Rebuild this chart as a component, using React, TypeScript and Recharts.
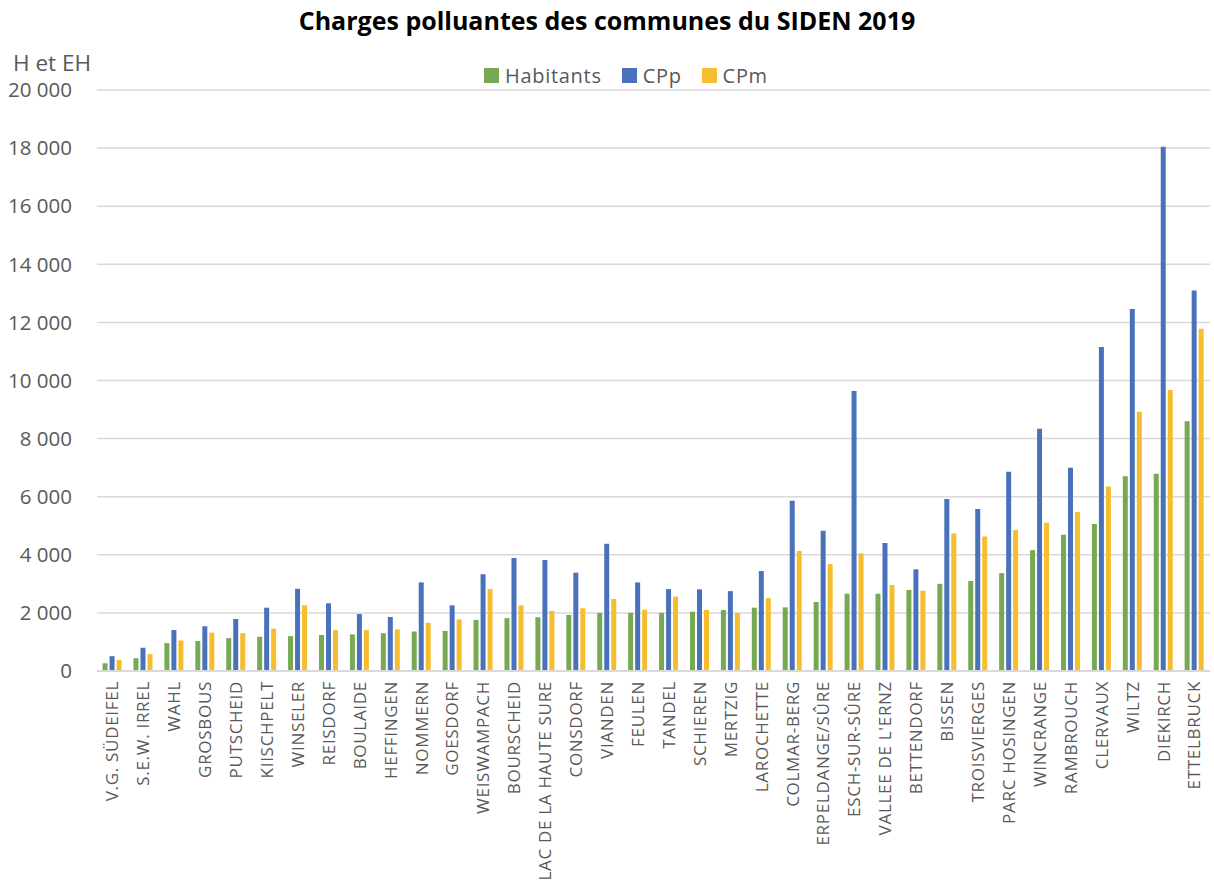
import React from "react";
import { BarChart, Bar, XAxis, YAxis, CartesianGrid, Legend } from "recharts";

const communes = [
  "V.G. SÜDEIFEL", "S.E.W. IRREL", "WAHL", "GROSBOUS", "PUTSCHEID", "KIISCHPELT",
  "WINSELER", "REISDORF", "BOULAIDE", "HEFFINGEN", "NOMMERN", "GOESDORF",
  "WEISWAMPACH", "BOURSCHEID", "LAC DE LA HAUTE SURE", "CONSDORF", "VIANDEN", "FEULEN",
  "TANDEL", "SCHIEREN", "MERTZIG", "LAROCHETTE", "COLMAR-BERG", "ERPELDANGE/SÛRE",
  "ESCH-SUR-SÛRE", "VALLEE DE L'ERNZ", "BETTENDORF", "BISSEN", "TROISVIERGES", "PARC HOSINGEN",
  "WINCRANGE", "RAMBROUCH", "CLERVAUX", "WILTZ", "DIEKIRCH", "ETTELBRUCK",
];

const habitants = [
  265, 440, 960, 1030, 1130, 1180, 1200, 1240, 1260, 1300, 1360, 1380,
  1760, 1820, 1850, 1930, 2000, 2000, 2000, 2040, 2100, 2180, 2190, 2375,
  2660, 2660, 2790, 3000, 3100, 3370, 4160, 4690, 5060, 6700, 6790, 8600,
];

const cpp = [
  510, 800, 1410, 1540, 1790, 2180, 2830, 2330, 1960, 1860, 3050, 2260,
  3330, 3890, 3820, 3385, 4380, 3050, 2820, 2810, 2750, 3440, 5860, 4830,
  9640, 4410, 3500, 5920, 5580, 6860, 8340, 7000, 11150, 12460, 18050, 13100,
];

const cpm = [
  380, 580, 1050, 1320, 1300, 1460, 2260, 1410, 1410, 1430, 1660, 1780,
  2820, 2260, 2065, 2160, 2480, 2110, 2560, 2100, 2000, 2510, 4130, 3680,
  4050, 2960, 2765, 4730, 4630, 4850, 5100, 5470, 6350, 8920, 9670, 11780,
];

const yTicks = [0, 2000, 4000, 6000, 8000, 10000, 12000, 14000, 16000, 18000, 20000];

const seriesNames = ["Habitants", "CPp", "CPm"];
const seriesColors = ["#76A952", "#4A72BA", "#F6BE2E"];

const data = communes.map((c, i) => ({
  name: c,
  Habitants: habitants[i],
  CPp: cpp[i],
  CPm: cpm[i],
}));

const FONT = "'Open Sans', 'DejaVu Sans', sans-serif";
const GRAY = "#595959";

const fmt = (v: number) => String(v).replace(/\B(?=(\d{3})+(?!\d))/g, " ");

const XTick = (props: any) => {
  const { x, y, payload } = props;
  return (
    <g transform={`translate(${x},${y + 2})`}>
      <text
        x={0}
        y={0}
        dy="0.35em"
        textAnchor="end"
        transform="rotate(-90)"
        fill={GRAY}
        fontSize={17}
        letterSpacing={0.7}
        fontFamily={FONT}
      >
        {payload.value}
      </text>
    </g>
  );
};

const LegendContent = () => (
  <div style={{ display: "flex", justifyContent: "flex-start", alignItems: "center", fontFamily: FONT, paddingLeft: 484 }}>
    {seriesNames.map((n, i) => (
      <div key={n} style={{ display: "flex", alignItems: "center", marginRight: 20 }}>
        <span style={{ display: "inline-block", width: 15, height: 15, background: seriesColors[i], marginRight: 6 }} />
        <span style={{ fontSize: 20, color: GRAY, letterSpacing: 0.7 }}>{n}</span>
      </div>
    ))}
  </div>
);

export default function App() {
  return (
    <div style={{ position: "absolute", left: 0, top: 0, width: 1214, height: 889, background: "#fff" }}>
      <div
        style={{
          position: "absolute",
          top: 3,
          left: 0,
          width: 1214,
          textAlign: "center",
          fontFamily: FONT,
          fontWeight: 700,
          fontSize: 25,
          color: "#000",
          whiteSpace: "nowrap",
        }}
      >
        Charges polluantes des communes du SIDEN 2019
      </div>
      <div
        style={{
          position: "absolute",
          top: 47,
          left: 13,
          fontFamily: FONT,
          fontSize: 22.5,
          color: GRAY,
          whiteSpace: "nowrap",
        }}
      >
        H et EH
      </div>
      <BarChart
        width={1214}
        height={889}
        data={data}
        margin={{ top: 90, right: 4, left: 0, bottom: 0 }}
        barCategoryGap="18%"
        barGap={2}
      >
        <CartesianGrid vertical={false} stroke="#d9d9d9" strokeWidth={1.5} />
        <XAxis
          dataKey="name"
          interval={0}
          height={218}
          tickLine={false}
          axisLine={{ stroke: "#d9d9d9", strokeWidth: 2 }}
          tick={<XTick />}
        />
        <YAxis
          width={97}
          domain={[0, 20000]}
          ticks={yTicks}
          tickFormatter={fmt}
          axisLine={false}
          tickLine={false}
          tickMargin={19}
          tick={{ fill: GRAY, fontSize: 20.5, fontFamily: FONT }}
        />
        <Legend
          verticalAlign="middle"
          align="center"
          wrapperStyle={{ top: 62, left: 0, width: 1214 }}
          content={<LegendContent />}
        />
        {seriesNames.map((n, i) => (
          <Bar key={n} dataKey={n} fill={seriesColors[i]} isAnimationActive={false} />
        ))}
      </BarChart>
    </div>
  );
}
